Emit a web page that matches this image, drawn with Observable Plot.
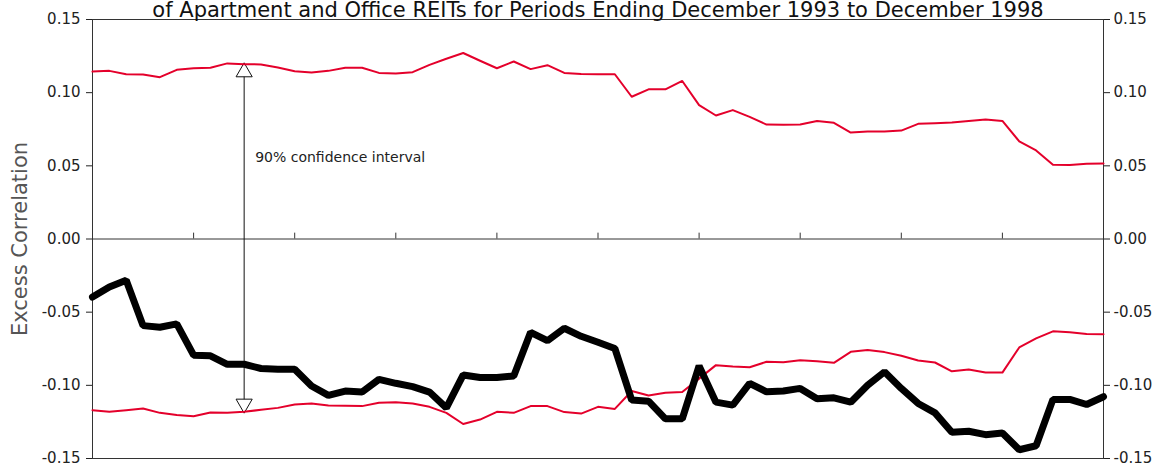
<!DOCTYPE html>
<html>
<head>
<meta charset="utf-8">
<script src="https://cdn.jsdelivr.net/npm/d3@7"></script>
<script src="https://cdn.jsdelivr.net/npm/@observablehq/plot@0.6"></script>
<style>
  body { margin: 0; background: #fff; }
  svg { overflow: visible; }
</style>
</head>
<body>
<div id="chart"></div>
<script>
// monthly periods, Dec 1993 .. Dec 1998 (index 0..60)
const upperBound = [
  0.1144, 0.1149, 0.1126, 0.1124, 0.1106, 0.1156, 0.1167, 0.1170, 0.1200, 0.1195,
  0.1193, 0.1172, 0.1147, 0.1138, 0.1149, 0.1170, 0.1170, 0.1135, 0.1131, 0.1140,
  0.1190, 0.1232, 0.1271, 0.1218, 0.1167, 0.1213, 0.1161, 0.1188, 0.1135, 0.1128,
  0.1126, 0.1126, 0.0972, 0.1023, 0.1023, 0.1080, 0.0915, 0.0844, 0.0881, 0.0835,
  0.0782, 0.0780, 0.0782, 0.0807, 0.0794, 0.0727, 0.0734, 0.0734, 0.0741, 0.0787,
  0.0791, 0.0796, 0.0807, 0.0817, 0.0807, 0.0667, 0.0605, 0.0507, 0.0505, 0.0514,
  0.0516
];
const lowerBound = [
  -0.1170, -0.1181, -0.1170, -0.1158, -0.1188, -0.1202, -0.1211, -0.1186, -0.1188, -0.1181,
  -0.1167, -0.1154, -0.1131, -0.1124, -0.1138, -0.1140, -0.1142, -0.1119, -0.1115, -0.1124,
  -0.1147, -0.1188, -0.1264, -0.1234, -0.1181, -0.1188, -0.1142, -0.1142, -0.1183, -0.1193,
  -0.1147, -0.1161, -0.1039, -0.1069, -0.1050, -0.1046, -0.0954, -0.0862, -0.0872, -0.0876,
  -0.0839, -0.0842, -0.0828, -0.0835, -0.0846, -0.0771, -0.0759, -0.0773, -0.0798, -0.0830,
  -0.0844, -0.0904, -0.0892, -0.0913, -0.0913, -0.0741, -0.0679, -0.0631, -0.0638, -0.0649,
  -0.0651
];
const excess = [
  -0.0397, -0.0328, -0.0282, -0.0592, -0.0603, -0.0580, -0.0794, -0.0798, -0.0856, -0.0856,
  -0.0885, -0.0890, -0.0890, -0.1005, -0.1069, -0.1039, -0.1046, -0.0959, -0.0986, -0.1009,
  -0.1046, -0.1154, -0.0929, -0.0947, -0.0947, -0.0936, -0.0638, -0.0695, -0.0610, -0.0665,
  -0.0706, -0.0748, -0.1101, -0.1108, -0.1229, -0.1229, -0.0867, -0.1115, -0.1135, -0.0986,
  -0.1044, -0.1039, -0.1021, -0.1092, -0.1085, -0.1115, -0.1000, -0.0908, -0.1021, -0.1124,
  -0.1188, -0.1321, -0.1314, -0.1337, -0.1326, -0.1440, -0.1413, -0.1096, -0.1096, -0.1131,
  -0.1078
];
const yTicks = [-0.15, -0.10, -0.05, 0, 0.05, 0.10, 0.15];
const xTicks = [6, 12, 18, 24, 30, 36, 42, 48, 54];
const ciPeriod = 9;
const ciLabel = "90% confidence interval";
const title = "of Apartment and Office REITs for Periods Ending December 1993 to December 1998";

const rows = excess.map((v, i) => ({i, excess: v, upper: upperBound[i], lower: lowerBound[i]}));
const ci = [{i: ciPeriod, upper: upperBound[ciPeriod], lower: lowerBound[ciPeriod]}];
const red = "#e4002b";
const fmt = d => (d < 0 ? "-" : "") + Math.abs(d).toFixed(2);

const chart = Plot.plot({
  width: 1165,
  height: 468,
  marginTop: 19,
  marginBottom: 10,
  marginLeft: 92,
  marginRight: 62,
  style: {fontFamily: "DejaVu Sans, Verdana, sans-serif", fontSize: "15px", color: "#222"},
  x: {domain: [0, 60], axis: null},
  y: {domain: [-0.15, 0.15], axis: null},
  marks: [
    Plot.frame({stroke: "#333"}),
    Plot.axisY({anchor: "left", ticks: yTicks, tickFormat: fmt, tickSize: 6, tickPadding: 6, label: null, fontSize: 15}),
    Plot.axisY({anchor: "right", ticks: yTicks, tickFormat: fmt, tickSize: 6, tickPadding: 4, label: null, fontSize: 15}),
    Plot.ruleY([0], {stroke: "#333"}),
    Plot.ruleX(xTicks, {y1: 0, y2: 0.004, stroke: "#333"}),
    Plot.ruleX(ci, {x: "i", y1: "upper", y2: "lower", stroke: "#111", strokeWidth: 1}),
    Plot.dot(ci, {x: "i", y: "upper", symbol: "triangle", r: 6, dy: 8, fill: "white", stroke: "#111", strokeWidth: 1}),
    Plot.dot(ci, {x: "i", y: "lower", symbol: "triangle", r: 6, dy: -8, rotate: 180, fill: "white", stroke: "#111", strokeWidth: 1}),
    Plot.text([ciLabel], {x: ciPeriod, y: 0.056, text: d => d, textAnchor: "start", dx: 11, fontSize: 14}),
    Plot.line(rows, {x: "i", y: "upper", stroke: red, strokeWidth: 2}),
    Plot.line(rows, {x: "i", y: "lower", stroke: red, strokeWidth: 2}),
    Plot.line(rows, {x: "i", y: "excess", stroke: "#000", strokeWidth: 7, strokeLinejoin: "miter"}),
    Plot.text([title], {frameAnchor: "top", text: d => d, dy: -17, fontSize: 21, fill: "#111"}),
    Plot.text(["Excess Correlation"], {frameAnchor: "left", text: d => d, textAnchor: "middle", rotate: -90, dx: -72, fontSize: 21, fill: "#555"})
  ]
});
document.getElementById("chart").append(chart);
</script>
</body>
</html>
